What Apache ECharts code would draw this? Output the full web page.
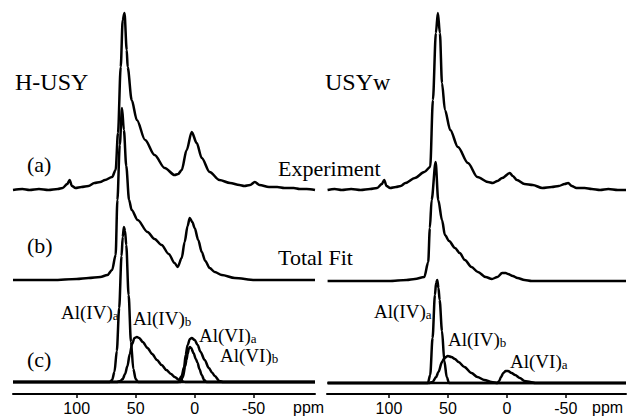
<!DOCTYPE html>
<html>
<head>
<meta charset="utf-8">
<script src="https://cdn.jsdelivr.net/npm/echarts@6.0.0/dist/echarts.min.js"></script>
<style>
  html, body { margin: 0; padding: 0; background: #fff; }
  #main { width: 629px; height: 418px; }
</style>
</head>
<body>
<div id="main"></div>
<script>
// tick labels (ppm)
var ticks = [100, 50, 0, -50];

// H-USY : [ppm, intensity]
var hExperiment = [[154,0],[146,1],[140,0],[132,1],[124,0],[116,1],[112,2],[108,6],[106,10],[104,4],[101,2],[96,3],[90,4],[85,7],[80,8],[76,10],[70,13],[67,20],[65,57],[62.7,123],[61,170],[59.5,177],[57.6,140],[56.8,123],[53.4,90],[49,70],[42,50],[34,35],[25.4,22],[17,15],[14,16],[11,20],[6.8,40],[2.5,58],[-1.7,47],[-6,32],[-12.7,18],[-21,10],[-30,7],[-38,5],[-42,4],[-47,5],[-51,8],[-55,5],[-63,3],[-70,3],[-76,2],[-84,2],[-89,1],[-95,1],[-102,0]];
var hTotalFit = [[154,0],[120,0],[100,1],[90,2],[80,3],[74,5],[70,10],[67,25],[65.5,80],[63.5,135],[61.6,172],[60,150],[58,114],[55.6,80],[53.4,70],[48.3,60],[40,48],[34,41],[28,35],[22,26],[17,17],[14.4,13],[11,22],[8.5,38],[6,54],[4.2,62],[2,58],[0,52],[-3,40],[-6,28],[-9,19],[-12.7,12],[-17,8],[-23,5],[-34,2],[-51,0],[-102,0]];
var hAlIVa = [[154,0],[72,0],[70,2],[68,10],[66,31],[64,74],[62,126],[61,145],[60,155],[59,151],[58,137],[56,87],[54,40],[52,13],[50,3],[48,0],[-102,0]];
var hAlIVb = [[154,0],[66,0],[63,1],[61,3],[59,8],[57,16],[55,28],[53,38],[51,44],[49,45],[47,44],[44,40],[40,34],[36,28],[32,22],[28,17],[24,12],[20,8],[17,5],[13,2],[8,0],[-102,0]];
var hAlVIa = [[154,0],[14,0],[11,6],[9,15],[7.6,27],[6,37],[4,43],[2.5,44],[0,42],[-2.5,37],[-5,30],[-8.5,22],[-12,14],[-15,9],[-17,6],[-21,1],[-24,0],[-102,0]];
var hAlVIb = [[154,0],[12,0],[10,5],[8,16],[7,22],[6,28],[5,33],[4,35],[3,34],[1,29],[-1,23],[-2.5,19],[-4,13],[-6,7],[-8,2],[-10,0],[-102,0]];

// USYw : [ppm, intensity]
var wExperiment = [[152,0],[146,1],[140,0],[132,1],[124,0],[116,1],[110,2],[106,6],[104,10],[102,4],[99,2],[94,3],[90,4],[86,7],[78,12],[70,18],[65,23],[62.7,90],[60.2,157],[58.5,177],[56.8,157],[55,107],[52.5,80],[48,60],[41.5,43],[33,27],[25,13],[16,8],[12,7],[8,9],[4,12],[-2.5,17],[-5,14],[-8.5,10],[-15,6],[-22,5],[-30,2],[-38,3],[-44,4],[-49,6],[-52,7],[-55,4],[-59,2],[-66,2],[-72,1],[-79,0],[-86,1],[-94,0],[-101,0]];
var wTotalFit = [[152,0],[100,0],[85,1],[78,2],[70,4],[66.7,19],[65.3,53],[63.8,81],[60.4,119],[58.2,81],[55,61],[52.5,46],[49,40],[44,33],[40,28],[35.6,21],[30,14],[24.6,9],[18,4],[12.7,2],[8,4],[4,8],[1,8],[-1,7],[-5,5],[-9,3],[-15,1],[-21,0],[-101,0]];
var wAlIVa = [[152,0],[67,0],[65,8],[63,45],[61,88],[60,100],[59,103],[58,95],[57,83],[55,52],[53,22],[51,6],[49,0],[-101,0]];
var wAlIVb = [[152,0],[66,0],[63,1],[60,6],[58,11],[55,21],[53,25],[50,27],[47,26],[44,24],[41,21],[36,16],[30,10],[25,6],[19,3],[13,1],[8,0],[-101,0]];
var wAlVIa = [[152,0],[8,0],[6.5,2],[5,6],[3,10],[1,12],[-1,12],[-4,10],[-7,8],[-11,5],[-15,2],[-20,1],[-24,0],[-101,0]];

var myChart = echarts.init(document.getElementById('main'), null, { renderer: 'svg' });

var serif = "'Liberation Serif', 'Times New Roman', serif";
var sans = "'Liberation Sans', Arial, sans-serif";

// vertical offsets of the stacked traces
var offA = 204, offB = 114, offC = 12;

function trace(points, offset, idx) {
	return {
		type: 'line',
		xAxisIndex: idx,
		yAxisIndex: idx,
		data: points.map(function(p) { return [p[0], p[1] + offset]; }),
		symbol: 'none',
		smooth: 0.3,
		smoothMonotone: 'x',
		silent: true,
		lineStyle: { color: '#000', width: 2.5 }
	};
}

function xAx(idx, min, max) {
	return {
		gridIndex: idx,
		type: 'value',
		min: min,
		max: max,
		inverse: true,
		splitLine: { show: false },
		axisLine: { show: true, onZero: false, lineStyle: { color: '#000', width: 2 } },
		axisTick: { show: true, customValues: ticks, length: 4, lineStyle: { color: '#000', width: 1.5 } },
		axisLabel: { customValues: ticks, margin: 6, color: '#000', fontSize: 16, fontFamily: sans }
	};
}

function yAx(idx) {
	return { gridIndex: idx, type: 'value', min: 0, max: 394, show: false };
}

function txt(text, x, y, size) {
	return {
		type: 'text', x: x, y: y, silent: true,
		style: { text: text, fontSize: size, fontFamily: serif, fill: '#000', verticalAlign: 'middle' }
	};
}

function alTxt(main, sub, x, y) {
	return {
		type: 'text', x: x, y: y, silent: true,
		style: {
			text: main + '{s|' + sub + '}', fontSize: 19, fontFamily: serif, fill: '#000', verticalAlign: 'middle',
			rich: { s: { fontSize: 13, fontFamily: serif, fill: '#000', verticalAlign: 'bottom', lineHeight: 8 } }
		}
	};
}

option = {
	animation: false,
	grid: [
		{ left: 13, top: 0, width: 302, height: 394 },
		{ left: 327, top: 0, width: 299, height: 394 }
	],
	xAxis: [xAx(0, -102, 154), xAx(1, -101, 152.5)],
	yAxis: [yAx(0), yAx(1)],
	series: [
		trace(hExperiment, offA, 0),
		trace(hTotalFit, offB, 0),
		trace(hAlIVa, offC, 0),
		trace(hAlIVb, offC, 0),
		trace(hAlVIa, offC, 0),
		trace(hAlVIb, offC, 0),
		trace(wExperiment, offA, 1),
		trace(wTotalFit, offB - 1, 1),
		trace(wAlIVa, offC - 1, 1),
		trace(wAlIVb, offC - 1, 1),
		trace(wAlVIa, offC - 1, 1)
	],
	graphic: [
		txt('H-USY', 15, 82, 24),
		txt('USYw', 325, 82, 24),
		txt('(a)', 27, 164, 22),
		txt('(b)', 27, 245, 22),
		txt('(c)', 27, 359, 22),
		txt('Experiment', 278, 168, 22),
		txt('Total Fit', 278, 257, 22),
		alTxt('Al(IV)', 'a', 61, 312),
		alTxt('Al(IV)', 'b', 133, 318),
		alTxt('Al(VI)', 'a', 199, 335),
		alTxt('Al(VI)', 'b', 220, 355),
		alTxt('Al(IV)', 'a', 374, 311),
		alTxt('Al(IV)', 'b', 448, 339),
		alTxt('Al(VI)', 'a', 510, 361),
		{ type: 'text', x: 293, y: 407, silent: true, style: { text: 'ppm', fontSize: 16, fontFamily: sans, fill: '#000', verticalAlign: 'middle' } },
		{ type: 'text', x: 592, y: 407, silent: true, style: { text: 'ppm', fontSize: 16, fontFamily: sans, fill: '#000', verticalAlign: 'middle' } }
	]
};
myChart.setOption(option);
</script>
</body>
</html>
